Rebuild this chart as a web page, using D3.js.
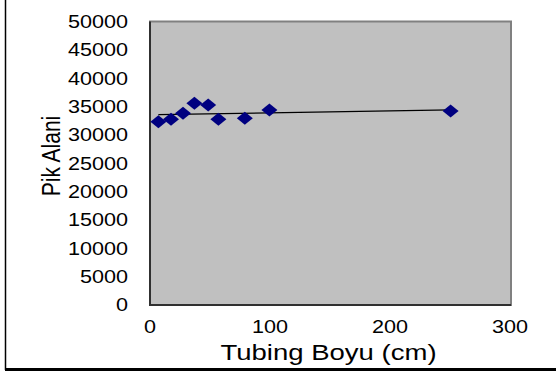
<!DOCTYPE html>
<html>
<head>
<meta charset="utf-8">
<script src="https://cdn.jsdelivr.net/npm/d3@7"></script>
<style>
  html, body { margin: 0; padding: 0; background: #fff; }
  svg { display: block; }
  text { font-family: "Liberation Sans", Arial, sans-serif; fill: #000; }
</style>
</head>
<body>
<svg id="chart" width="556" height="372"></svg>
<script>
// Tubing length (cm) vs. peak area
const tubingLength = [7, 17.5, 27.5, 37, 48.5, 57, 79, 99.5, 250.5];
const peakArea     = [32330, 32750, 33810, 35570, 35270, 32750, 32930, 34390, 34210];
const xTicks = [0, 100, 200, 300];
const yTicks = [0, 5000, 10000, 15000, 20000, 25000, 30000, 35000, 40000, 45000, 50000];
const xTitle = "Tubing Boyu (cm)";
const yTitle = "Pik Alani";

const svg = d3.select("#chart");
const W = 556, H = 372;

const x = d3.scaleLinear().domain([0, 300]).range([150, 510]);
const y = d3.scaleLinear().domain([0, 50000]).range([305, 21.5]);

// outer chart frame (left and bottom edges visible)
svg.append("line").attr("x1", 5.5).attr("x2", 5.5).attr("y1", 0).attr("y2", 370)
  .attr("stroke", "#000").attr("stroke-width", 1.5);
svg.append("line").attr("x1", 5).attr("x2", W).attr("y1", 369.5).attr("y2", 369.5)
  .attr("stroke", "#000").attr("stroke-width", 3);

// plot area
svg.append("rect")
  .attr("x", x(0)).attr("y", y(50000))
  .attr("width", x(300) - x(0) + 1).attr("height", y(0) - y(50000))
  .attr("fill", "#c0c0c0").attr("stroke", "#808080").attr("stroke-width", 2);

// axis lines
svg.append("line").attr("x1", x(0)).attr("x2", x(0)).attr("y1", y(50000)).attr("y2", y(0) + 1)
  .attr("stroke", "#303030").attr("stroke-width", 2);
svg.append("line").attr("x1", x(0)).attr("x2", x(300) + 1).attr("y1", y(0)).attr("y2", y(0))
  .attr("stroke", "#303030").attr("stroke-width", 2);

// horizontally widened text helper
function label(g, tx, ty, str, size, sx, anchor, rot) {
  return g.append("text")
    .attr("transform", `translate(${tx},${ty}) scale(${sx},1)` + (rot ? ` rotate(${rot})` : ""))
    .attr("text-anchor", anchor)
    .attr("font-size", size)
    .text(str);
}

// y tick labels
const yAxisG = svg.append("g");
yTicks.forEach(v => label(yAxisG, 128, y(v) + 6.4, String(v), 18, 1.2, "end"));

// x tick labels
const xAxisG = svg.append("g");
xTicks.forEach(v => label(xAxisG, x(v), 333, String(v), 18, 1.2, "middle"));

// axis titles
label(svg, 328.5, 360.2, xTitle, 21.5, 1.28, "middle");
label(svg, 60, 156, yTitle, 21, 1.2, "middle", -90);

// linear trendline (least squares)
const pts = tubingLength.map((d, i) => [d, peakArea[i]]);
const mx = d3.mean(tubingLength), my = d3.mean(peakArea);
const slope = d3.sum(pts, p => (p[0] - mx) * (p[1] - my)) / d3.sum(pts, p => (p[0] - mx) ** 2);
const icpt = my - slope * mx;
const [x0, x1] = d3.extent(tubingLength);
svg.append("line")
  .attr("x1", x(x0)).attr("y1", y(icpt + slope * x0))
  .attr("x2", x(x1)).attr("y2", y(icpt + slope * x1))
  .attr("stroke", "#000").attr("stroke-width", 1.2);

// diamond markers
const hw = 8, hh = 6.5;
svg.append("g").selectAll("path").data(pts).join("path")
  .attr("d", p => {
    const cx = x(p[0]), cy = y(p[1]);
    return `M${cx},${cy - hh}L${cx + hw},${cy}L${cx},${cy + hh}L${cx - hw},${cy}Z`;
  })
  .attr("fill", "#000080");
</script>
</body>
</html>
